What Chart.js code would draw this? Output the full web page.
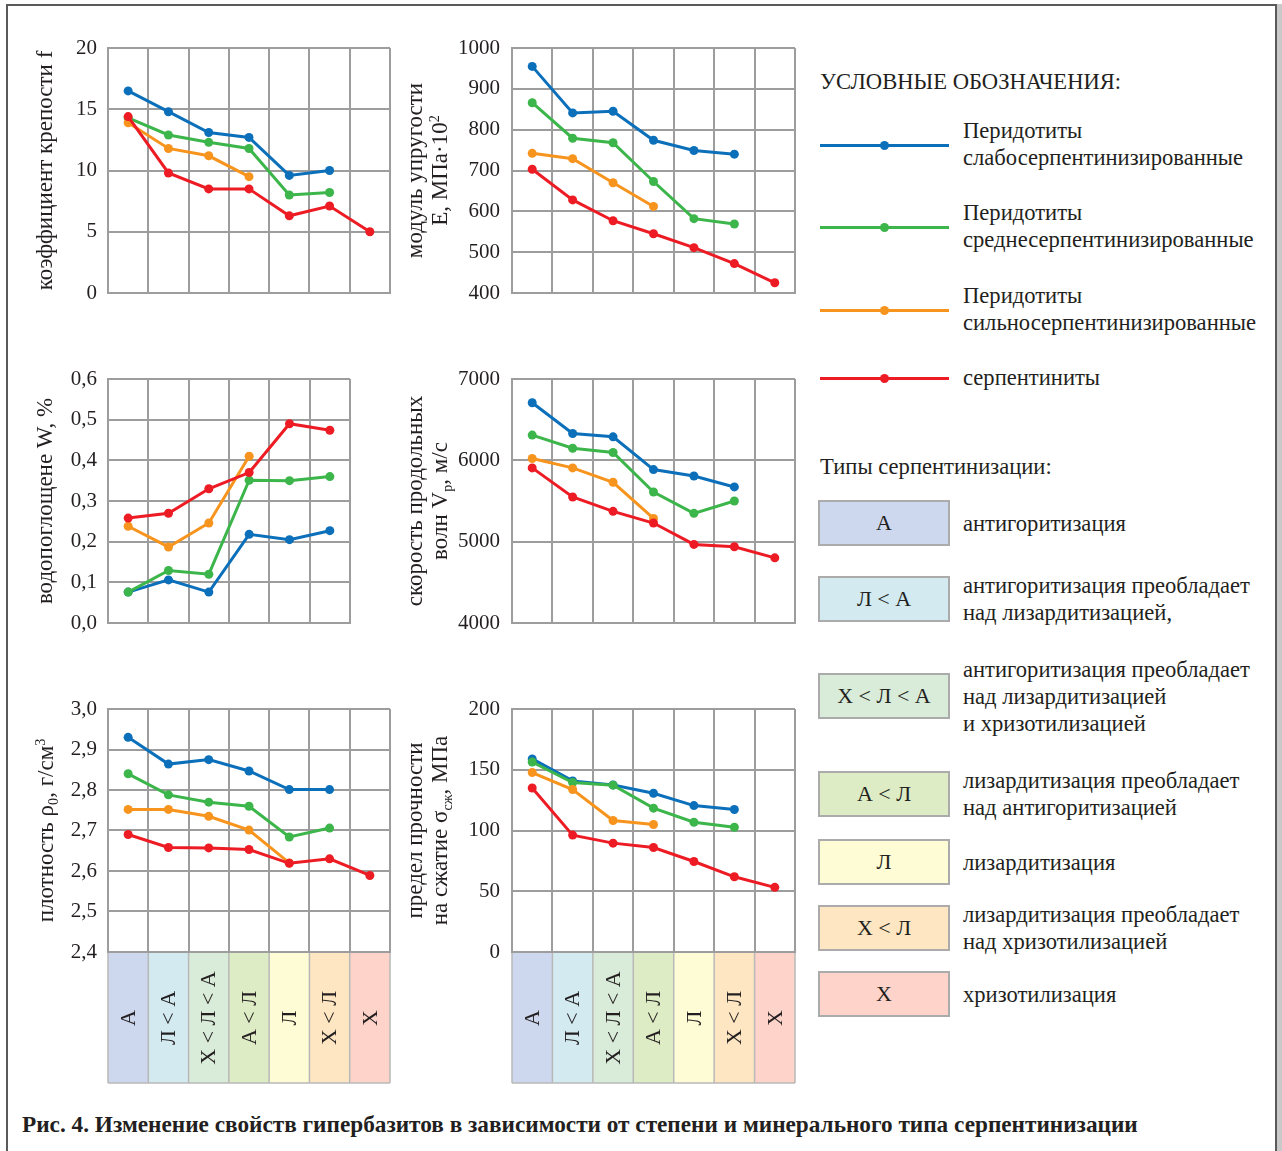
<!DOCTYPE html>
<html lang="ru">
<head>
<meta charset="utf-8">
<title>Рис. 4</title>
<script src="https://cdn.jsdelivr.net/npm/chart.js@4.4.1/dist/chart.umd.min.js"></script>
<style>
  html, body { margin: 0; padding: 0; background: #fff; }
  body {
    width: 1282px; height: 1151px; position: relative; overflow: hidden;
    font-family: 'Liberation Serif', 'DejaVu Serif', serif; color: #231f20;
  }
  #frame {
    position: absolute; left: 6px; top: 4px; width: 1271px; height: 1200px;
    border: 2px solid #5a5a5a; border-bottom: none; box-sizing: border-box;
  }
  #frameShade { position: absolute; left: 1277px; top: 4px; width: 5px; height: 1200px; background: #c9c9c9; }
  canvas.chart { position: absolute; }
  .txt { position: absolute; font-size: 22.6px; line-height: 27px; white-space: nowrap; }
  .mid { transform: translateY(-50%); }
  .swatch { position: absolute; left: 820px; width: 129px; height: 3px; }
  .dot { position: absolute; left: 60px; top: -3px; width: 9px; height: 9px; border-radius: 50%; }
  .tbox {
    position: absolute; left: 818px; width: 132px; height: 46px; box-sizing: border-box;
    border: 2px solid #ababab; font-size: 22px; display: flex; align-items: center; justify-content: center;
  }
  #caption { position: absolute; left: 22px; top: 1124px; font-weight: bold; font-size: 23.25px; }
</style>
</head>
<body>
<div id="frame"></div>
<div id="frameShade"></div>

<canvas id="cF" class="chart"></canvas>
<canvas id="cE" class="chart"></canvas>
<canvas id="cW" class="chart"></canvas>
<canvas id="cV" class="chart"></canvas>
<canvas id="cRho" class="chart"></canvas>
<canvas id="cSigma" class="chart"></canvas>

<div id="legend"></div>
<div id="caption" class="txt mid">Рис. 4. Изменение свойств гипербазитов в зависимости от степени и минерального типа серпентинизации</div>

<script>
// categories = serpentinization types (bottom boxes)
const categories = ['А', 'Л < А', 'Х < Л < А', 'А < Л', 'Л', 'Х < Л', 'Х'];
const typeNotes = [
    'антигоритизация',
    'антигоритизация преобладает\nнад лизардитизацией,',
    'антигоритизация преобладает\nнад лизардитизацией\nи хризотилизацией',
    'лизардитизация преобладает\nнад антигоритизацией',
    'лизардитизация',
    'лизардитизация преобладает\nнад хризотилизацией',
    'хризотилизация'
];
const typeColors = ['#cdd7ee', '#d2eaf0', '#d9ebd9', '#deecc5', '#fefcd5', '#fde6c1', '#fed4ca'];

const seriesNames = [
    'Перидотиты\nслабосерпентинизированные',
    'Перидотиты\nсреднесерпентинизированные',
    'Перидотиты\nсильносерпентинизированные',
    'серпентиниты'
];
const seriesColors = ['#0b6fba', '#3cb54a', '#f7941e', '#ed1c24'];

// коэффициент крепости f
const fWeak   = [16.5, 14.8, 13.1, 12.7, 9.6, 10.0, null];
const fMedium = [14.3, 12.9, 12.3, 11.8, 8.0, 8.2, null];
const fStrong = [13.9, 11.8, 11.2, 9.5, null, null, null];
const fSerp   = [14.4, 9.8, 8.5, 8.5, 6.3, 7.1, 5.0];

// модуль упругости E, МПа·10²
const eWeak   = [955, 841, 845, 774, 749, 740, null];
const eMedium = [866, 779, 768, 673, 582, 569, null];
const eStrong = [742, 729, 670, 612, null, null, null];
const eSerp   = [703, 628, 577, 545, 511, 472, 425];

// водопоглощение W, % (six types only)
const wWeak   = [0.076, 0.106, 0.076, 0.218, 0.205, 0.227];
const wMedium = [0.076, 0.129, 0.120, 0.351, 0.350, 0.360];
const wStrong = [0.238, 0.187, 0.246, 0.410, null, null];
const wSerp   = [0.258, 0.270, 0.330, 0.370, 0.490, 0.474];

// скорость продольных волн Vp, м/с
const vWeak   = [6708, 6330, 6289, 5886, 5808, 5673, null];
const vMedium = [6310, 6149, 6096, 5611, 5348, 5500, null];
const vStrong = [6022, 5907, 5730, 5286, null, null, null];
const vSerp   = [5907, 5549, 5373, 5229, 4966, 4937, 4801];

// плотность ρ0, г/см³
const rhoWeak   = [2.930, 2.864, 2.875, 2.847, 2.801, 2.801, null];
const rhoMedium = [2.840, 2.788, 2.770, 2.760, 2.684, 2.706, null];
const rhoStrong = [2.752, 2.752, 2.735, 2.701, 2.620, null, null];
const rhoSerp   = [2.690, 2.658, 2.657, 2.653, 2.619, 2.630, 2.589];

// предел прочности на сжатие σсж, МПа
const sWeak   = [158.9, 140.8, 137.5, 130.7, 120.5, 117.3, null];
const sMedium = [156.4, 139.5, 137.3, 118.4, 106.8, 102.7, null];
const sStrong = [147.7, 133.7, 108.2, 104.9, null, null, null];
const sSerp   = [135.0, 96.2, 89.6, 86.0, 74.5, 61.9, 53.2];

const FONT = "'Liberation Serif', 'DejaVu Serif', serif";
const INK = '#231f20';
const GRID = '#9d9d9d';
const PAD = 26; // room above/below plot for the end tick labels

// rotated axis title with _{sub} and ^{sup} parts
function drawRich(ctx, x, y, text, size) {
    const parts = text.split(/(_\{[^}]*\}|\^\{[^}]*\})/).filter(Boolean).map(p => {
        if (p.startsWith('_{')) return { t: p.slice(2, -1), dy: size * 0.2, s: size * 0.62 };
        if (p.startsWith('^{')) return { t: p.slice(2, -1), dy: -size * 0.38, s: size * 0.62 };
        return { t: p, dy: 0, s: size };
    });
    ctx.save();
    ctx.translate(x, y);
    ctx.rotate(-Math.PI / 2);
    ctx.fillStyle = INK;
    ctx.textBaseline = 'alphabetic';
    ctx.textAlign = 'left';
    let total = 0;
    parts.forEach(p => { ctx.font = p.s + 'px ' + FONT; p.w = ctx.measureText(p.t).width; total += p.w; });
    let cx = -total / 2;
    parts.forEach(p => {
        ctx.font = p.s + 'px ' + FONT;
        ctx.fillText(p.t, cx, size * 0.32 + p.dy);
        cx += p.w;
    });
    ctx.restore();
}

const figurePlugin = {
    id: 'figure',
    afterDraw(chart, args, opts) {
        const ctx = chart.ctx;
        const area = chart.chartArea;
        const xs = chart.scales.x;
        const n = chart.data.labels.length;
        const colW = (area.right - area.left) / n;
        if (opts.boxes) {
            const top = area.bottom + 1, h = opts.boxes;
            chart.data.labels.forEach((lab, i) => {
                const cx = xs.getPixelForValue(i);
                ctx.fillStyle = typeColors[i];
                ctx.fillRect(cx - colW / 2, top, colW, h);
            });
            ctx.strokeStyle = '#b8b8b8';
            ctx.lineWidth = 1.5;
            for (let i = 0; i <= n; i++) {
                const x = area.left + i * colW;
                ctx.beginPath(); ctx.moveTo(x, top); ctx.lineTo(x, top + h); ctx.stroke();
            }
            ctx.beginPath(); ctx.moveTo(area.left, top + h); ctx.lineTo(area.right, top + h); ctx.stroke();
            chart.data.labels.forEach((lab, i) => {
                const cx = xs.getPixelForValue(i);
                ctx.save();
                ctx.translate(cx + 1, top + 65);
                ctx.rotate(-Math.PI / 2);
                ctx.font = '22px ' + FONT;
                ctx.fillStyle = INK;
                ctx.textAlign = 'center';
                ctx.textBaseline = 'middle';
                ctx.fillText(lab, 0, 0);
                ctx.restore();
            });
        }
        const midY = (area.top + area.bottom) / 2;
        opts.title.forEach(line => drawRich(ctx, area.left + line.dx, midY, line.text, 23));
    }
};

function makeChart(id, cfg) {
    const canvas = document.getElementById(id);
    const bottomExtra = cfg.boxes ? cfg.boxes + 6 : PAD;
    const w = (cfg.right - cfg.left) + cfg.ml + 12;
    const h = (cfg.bottom - cfg.top) + PAD + bottomExtra;
    canvas.width = w; canvas.height = h;
    canvas.style.width = w + 'px'; canvas.style.height = h + 'px';
    canvas.style.left = (cfg.left - cfg.ml) + 'px';
    canvas.style.top = (cfg.top - PAD) + 'px';

    return new Chart(canvas, {
        type: 'line',
        data: {
            labels: cfg.labels,
            datasets: cfg.series.map((vals, i) => ({
                label: seriesNames[i],
                data: vals,
                borderColor: seriesColors[i],
                backgroundColor: seriesColors[i],
                borderWidth: 3,
                pointRadius: 4.5,
                pointHoverRadius: 4.5,
                pointBorderWidth: 0,
                tension: 0,
                spanGaps: false,
                clip: false,
                order: 3 - i
            }))
        },
        options: {
            responsive: false,
            animation: false,
            layout: { padding: { top: PAD, right: 12, bottom: cfg.boxes ? 6 : PAD, left: 0 } },
            plugins: {
                legend: { display: false },
                tooltip: { enabled: false },
                figure: { boxes: cfg.boxes, title: cfg.title }
            },
            scales: {
                x: {
                    type: 'category',
                    offset: true,
                    ticks: { display: false },
                    grid: { offset: true, color: GRID, lineWidth: 2, drawTicks: false },
                    border: { color: GRID, width: 2 },
                    afterFit: s => { s.height = cfg.boxes || 0; }
                },
                y: {
                    min: cfg.min,
                    max: cfg.max,
                    ticks: {
                        stepSize: cfg.step,
                        padding: cfg.tickPad,
                        color: INK,
                        font: { family: FONT, size: 21 },
                        callback: v => v.toFixed(cfg.decimals).replace('.', ',')
                    },
                    grid: { color: GRID, lineWidth: 2, drawTicks: false },
                    border: { color: GRID, width: 2 },
                    afterFit: s => { s.width = cfg.ml; }
                }
            }
        },
        plugins: [figurePlugin]
    });
}

makeChart('cF', {
    left: 108, top: 48, right: 390, bottom: 293, ml: 104, tickPad: 11,
    labels: categories, series: [fWeak, fMedium, fStrong, fSerp],
    min: 0, max: 20, step: 5, decimals: 0,
    title: [{ dx: -63, text: 'коэффициент крепости f' }]
});
makeChart('cE', {
    left: 512, top: 48, right: 795, bottom: 293, ml: 114, tickPad: 12,
    labels: categories, series: [eWeak, eMedium, eStrong, eSerp],
    min: 400, max: 1000, step: 100, decimals: 0,
    title: [{ dx: -97, text: 'модуль упругости' }, { dx: -72, text: 'Е, МПа·10^{2}' }]
});
makeChart('cW', {
    left: 108, top: 379, right: 350, bottom: 623, ml: 104, tickPad: 11,
    labels: categories.slice(0, 6), series: [wWeak, wMedium, wStrong, wSerp],
    min: 0, max: 0.6, step: 0.1, decimals: 1,
    title: [{ dx: -63, text: 'водопоглощене W, %' }]
});
makeChart('cV', {
    left: 512, top: 379, right: 795, bottom: 623, ml: 114, tickPad: 12,
    labels: categories, series: [vWeak, vMedium, vStrong, vSerp],
    min: 4000, max: 7000, step: 1000, decimals: 0,
    title: [{ dx: -97, text: 'скорость продольных' }, { dx: -72, text: 'волн V_{p}, м/с' }]
});
makeChart('cRho', {
    left: 108, top: 709, right: 390, bottom: 952, ml: 104, tickPad: 11, boxes: 130,
    labels: categories, series: [rhoWeak, rhoMedium, rhoStrong, rhoSerp],
    min: 2.4, max: 3.0, step: 0.1, decimals: 1,
    title: [{ dx: -62, text: 'плотность ρ_{0}, г/см^{3}' }]
});
makeChart('cSigma', {
    left: 512, top: 709, right: 795, bottom: 952, ml: 114, tickPad: 12, boxes: 130,
    labels: categories, series: [sWeak, sMedium, sStrong, sSerp],
    min: 0, max: 200, step: 50, decimals: 0,
    title: [{ dx: -97, text: 'предел прочности' }, { dx: -72, text: 'на сжатие σ_{сж}, МПа' }]
});

// legend (HTML, built from the same arrays)
const legend = document.getElementById('legend');
function addText(left, y, text) {
    const d = document.createElement('div');
    d.className = 'txt mid';
    d.style.left = left + 'px';
    d.style.top = y + 'px';
    d.innerHTML = text.split('\n').join('<br>');
    legend.appendChild(d);
    return d;
}
addText(820, 81, 'УСЛОВНЫЕ ОБОЗНАЧЕНИЯ:');
const seriesRowY = [145, 227, 310, 378];
seriesNames.forEach((name, i) => {
    const sw = document.createElement('div');
    sw.className = 'swatch';
    sw.style.top = (seriesRowY[i] - 1.5) + 'px';
    sw.style.background = seriesColors[i];
    const dot = document.createElement('div');
    dot.className = 'dot';
    dot.style.background = seriesColors[i];
    sw.appendChild(dot);
    legend.appendChild(sw);
    addText(963, seriesRowY[i] - 1, name);
});
addText(820, 466, 'Типы серпентинизации:');
const typeRowTop = [500, 576, 673, 771, 839, 905, 971];
categories.forEach((cat, i) => {
    const b = document.createElement('div');
    b.className = 'tbox';
    b.style.top = typeRowTop[i] + 'px';
    b.style.background = typeColors[i];
    b.textContent = cat;
    legend.appendChild(b);
    addText(963, typeRowTop[i] + 23, typeNotes[i]);
});
</script>
</body>
</html>
